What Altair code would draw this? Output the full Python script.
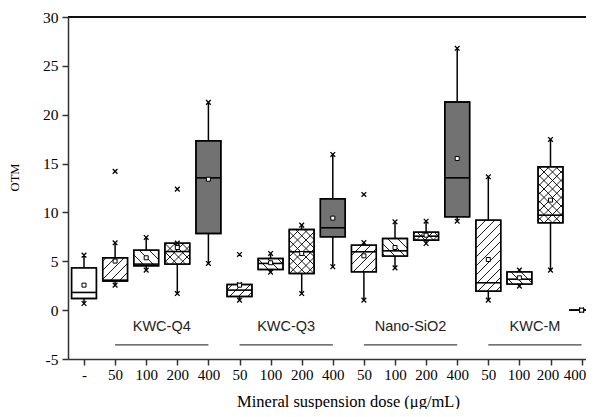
import json
import math
import altair as alt
import pandas as pd

# ---------------- data ----------------
labels = ["-", "50", "100", "200", "400", "50", "100", "200", "400",
          "50", "100", "200", "400", "50", "100", "200", "400"]
patterns = ["none", "slash", "back", "cross", "dense",
            "slash", "back", "cross", "dense",
            "slash", "back", "cross", "dense",
            "slash", "back", "cross", "dense"]
q1 = [1.19, 2.97, 4.54, 4.71, 7.85, 1.40, 4.16, 3.75, 7.50,
      3.92, 5.53, 7.16, 9.55, 1.94, 2.66, 8.94, 0.0]
med = [1.81, 3.07, 4.71, 6.00, 13.54, 2.05, 4.78, 5.97, 8.43,
       5.97, 6.07, 7.57, 13.54, 2.80, 3.17, 9.72, 0.0]
q3 = [4.33, 5.36, 6.14, 6.86, 17.33, 2.63, 5.29, 8.26, 11.40,
      6.65, 7.33, 7.98, 21.30, 9.21, 3.92, 14.67, 0.0]
mean = [2.56, 5.02, 5.36, 6.41, 13.40, 2.55, 4.85, 5.80, 9.42,
        5.56, 6.41, 7.67, 15.52, 5.18, 3.31, 11.26, 0.0]
lo = [0.68, 2.56, 4.09, 1.70, 4.78, 1.02, 3.89, 1.70, 4.44,
      1.02, 4.33, 6.82, 9.10, 1.02, 2.46, 4.09, 0.0]
hi = [5.63, 6.89, 7.44, 6.86, 21.26, 2.63, 5.80, 8.70, 15.93,
      6.92, 9.04, 9.10, 26.80, 13.65, 4.09, 17.47, 0.0]
out_idx = [2, 4, 6, 10]
out_val = [14.2, 12.38, 5.7, 11.84]

group_names = ["KWC-Q4", "KWC-Q3", "Nano-SiO2", "KWC-M"]
group_start = [2, 6, 10, 14]
group_end = [5, 9, 13, 17]

# ---------------- geometry ----------------
W, H = 518, 342
XMIN = 0.4855
XMAX = XMIN + W / 31.1
YMIN, YMAX = -5, 30
HALF = 0.4
kx = W / (XMAX - XMIN)
ky = H / (YMAX - YMIN)

df = pd.DataFrame(dict(idx=list(range(1, 18)), label=labels, pattern=patterns,
                       q1=q1, med=med, q3=q3, mean=mean, lo=lo, hi=hi))
outl = pd.DataFrame(dict(idx=out_idx, val=out_val))
groups = pd.DataFrame(dict(name=group_names, s=group_start, e=group_end))


def hatch(i, y0, y1, direction, step):
    X0 = (i - HALF - XMIN) * kx
    X1 = (i + HALF - XMIN) * kx
    Y0 = (y0 - YMIN) * ky
    Y1 = (y1 - YMIN) * ky
    segs = []
    if direction == 1:
        cmin, cmax = Y0 - X1, Y1 - X0
        c = math.floor(cmin / step) * step
        while c <= cmax:
            xa = max(X0, Y0 - c)
            xb = min(X1, Y1 - c)
            if xb > xa + 0.5:
                segs.append((xa, xa + c, xb, xb + c))
            c += step
    else:
        cmin, cmax = Y0 + X0, Y1 + X1
        c = math.floor(cmin / step) * step
        while c <= cmax:
            xa = max(X0, c - Y1)
            xb = min(X1, c - Y0)
            if xb > xa + 0.5:
                segs.append((xa, c - xa, xb, c - xb))
            c += step
    return [dict(hx=a / kx + XMIN, hy=b / ky + YMIN,
                 hx2=cc / kx + XMIN, hy2=d / ky + YMIN) for a, b, cc, d in segs]


rows = []
for i, p, a, b in zip(df.idx, df.pattern, df.q1, df.q3):
    if p == "slash":
        rows += hatch(i, a, b, 1, 9)
    elif p == "back":
        rows += hatch(i, a, b, -1, 10)
    elif p == "cross":
        rows += hatch(i, a, b, 1, 8.5) + hatch(i, a, b, -1, 8.5)
hatch_df = pd.DataFrame(rows)

# ---------------- scales & axes ----------------
xs = alt.Scale(domain=[XMIN, XMAX], nice=False, zero=False)
ys = alt.Scale(domain=[YMIN, YMAX], nice=False, zero=False)
SERIF = "Liberation Serif"

xax = alt.Axis(values=list(range(1, 18)),
               labelExpr=f"{json.dumps(labels)}[datum.value - 1]",
               labelOffset={"expr": "datum.value === 17 ? -7 : datum.value === 16 ? -3 : datum.value === 15 ? -1 : 0"}
               if False else {"condition": [{"test": "datum.value === 17", "value": -7},
                                            {"test": "datum.value === 16", "value": -3},
                                            {"test": "datum.value === 15", "value": -1}], "value": 0},
               title="Mineral suspension dose (μg/mL)", grid=False,
               tickSize=6, tickWidth=1.5, tickColor="#333",
               domainColor="#333", domainWidth=1.5,
               labelPadding=2, labelFont=SERIF, labelFontSize=15, labelColor="black",
               labelFlush=False, labelOverlap=False,
               titleFont=SERIF, titleFontSize=16.5, titleFontWeight="normal",
               titleColor="black", titleX=280, titleY=42, titleBaseline="middle")
yax = alt.Axis(values=[-5 + 2.5 * k for k in range(15)],
               labelExpr="datum.value % 5 === 0 ? '' + datum.value : ''",
               tickSize={"condition": {"test": "datum.value % 5 === 0", "value": 6}, "value": 3},
               title="OTM", grid=False, tickWidth=1.5, tickColor="#333",
               domainColor="#333", domainWidth=1.5,
               labelPadding=4, labelFont=SERIF, labelFontSize=15.5, labelColor="black",
               labelOverlap=False, labelFlush=False,
               titleFont=SERIF, titleFontSize=12.5, titleFontWeight="normal",
               titleColor="black", titleX=-54, titleY=160, titleBaseline="middle")

base = alt.Chart(df).transform_calculate(x0=f"datum.idx - {HALF}", x1=f"datum.idx + {HALF}")

boxes = base.mark_rect(stroke="black", strokeWidth=1.4).encode(
    x=alt.X("x0:Q", scale=xs, axis=xax),
    x2="x1:Q",
    y=alt.Y("q1:Q", scale=ys, axis=yax),
    y2="q3:Q",
    fill=alt.Fill("pattern:N", scale=alt.Scale(domain=["none", "slash", "back", "cross", "dense"],
                                                range=["white", "white", "white", "white", "#727272"]),
                  legend=None),
)

hatches = alt.Chart(hatch_df).mark_rule(color="black", strokeWidth=0.9).encode(
    x=alt.X("hx:Q", scale=xs, axis=xax), y=alt.Y("hy:Q", scale=ys, axis=yax),
    x2="hx2:Q", y2="hy2:Q")

outline = base.mark_rect(stroke="black", strokeWidth=1.4, fillOpacity=0).encode(
    x=alt.X("x0:Q", scale=xs, axis=xax), x2="x1:Q",
    y=alt.Y("q1:Q", scale=ys, axis=yax), y2="q3:Q")

medians = base.mark_rule(color="black", strokeWidth=1.6).encode(
    x=alt.X("x0:Q", scale=xs, axis=xax), x2="x1:Q",
    y=alt.Y("med:Q", scale=ys, axis=yax))

wh_up = base.mark_rule(color="black", strokeWidth=1.5).encode(
    x=alt.X("idx:Q", scale=xs, axis=xax),
    y=alt.Y("q3:Q", scale=ys, axis=yax), y2="hi:Q")
wh_dn = base.mark_rule(color="black", strokeWidth=1.5).encode(
    x=alt.X("idx:Q", scale=xs, axis=xax),
    y=alt.Y("lo:Q", scale=ys, axis=yax), y2="q1:Q")

XSHAPE = "M-1,-1L1,1M-1,1L1,-1"
ends = base.transform_fold(["lo", "hi"], as_=["end", "v"]).mark_point(
    shape=XSHAPE, size=22, filled=False, stroke="black", strokeWidth=1.3, opacity=1).encode(
    x=alt.X("idx:Q", scale=xs, axis=xax), y=alt.Y("v:Q", scale=ys, axis=yax))

outs = alt.Chart(outl).mark_point(
    shape=XSHAPE, size=22, filled=False, stroke="black", strokeWidth=1.3, opacity=1).encode(
    x=alt.X("idx:Q", scale=xs, axis=xax), y=alt.Y("val:Q", scale=ys, axis=yax))

means = base.mark_point(shape="square", size=16, filled=True, fill="white",
                        stroke="black", strokeWidth=1, opacity=1).encode(
    x=alt.X("idx:Q", scale=xs, axis=xax), y=alt.Y("mean:Q", scale=ys, axis=yax))

gbase = alt.Chart(groups).transform_calculate(mid="(datum.s + datum.e) / 2")
gtext = gbase.mark_text(font="Liberation Sans", fontSize=14.5, color="#222").encode(
    x=alt.X("mid:Q", scale=xs, axis=xax), y=alt.datum(-1.75), text="name:N")
glines = gbase.mark_rule(color="#444", strokeWidth=1.1).encode(
    x=alt.X("s:Q", scale=xs, axis=xax), x2="e:Q", y=alt.datum(-3.55))

top = alt.Chart(df).mark_rule(color="#111", strokeWidth=1.3).encode(y=alt.datum(30))

chart = alt.layer(boxes, hatches, outline, wh_up, wh_dn, medians, ends, outs, means,
                  gtext, glines, top).properties(
    width=W, height=H,
    padding={"left": 60, "top": 9, "right": 0, "bottom": 50},
    autosize=alt.AutoSizeParams(type="none"),
    background="white",
).configure_view(stroke=None)

chart.save("out.html", embed_options={"renderer": "svg", "actions": False})
